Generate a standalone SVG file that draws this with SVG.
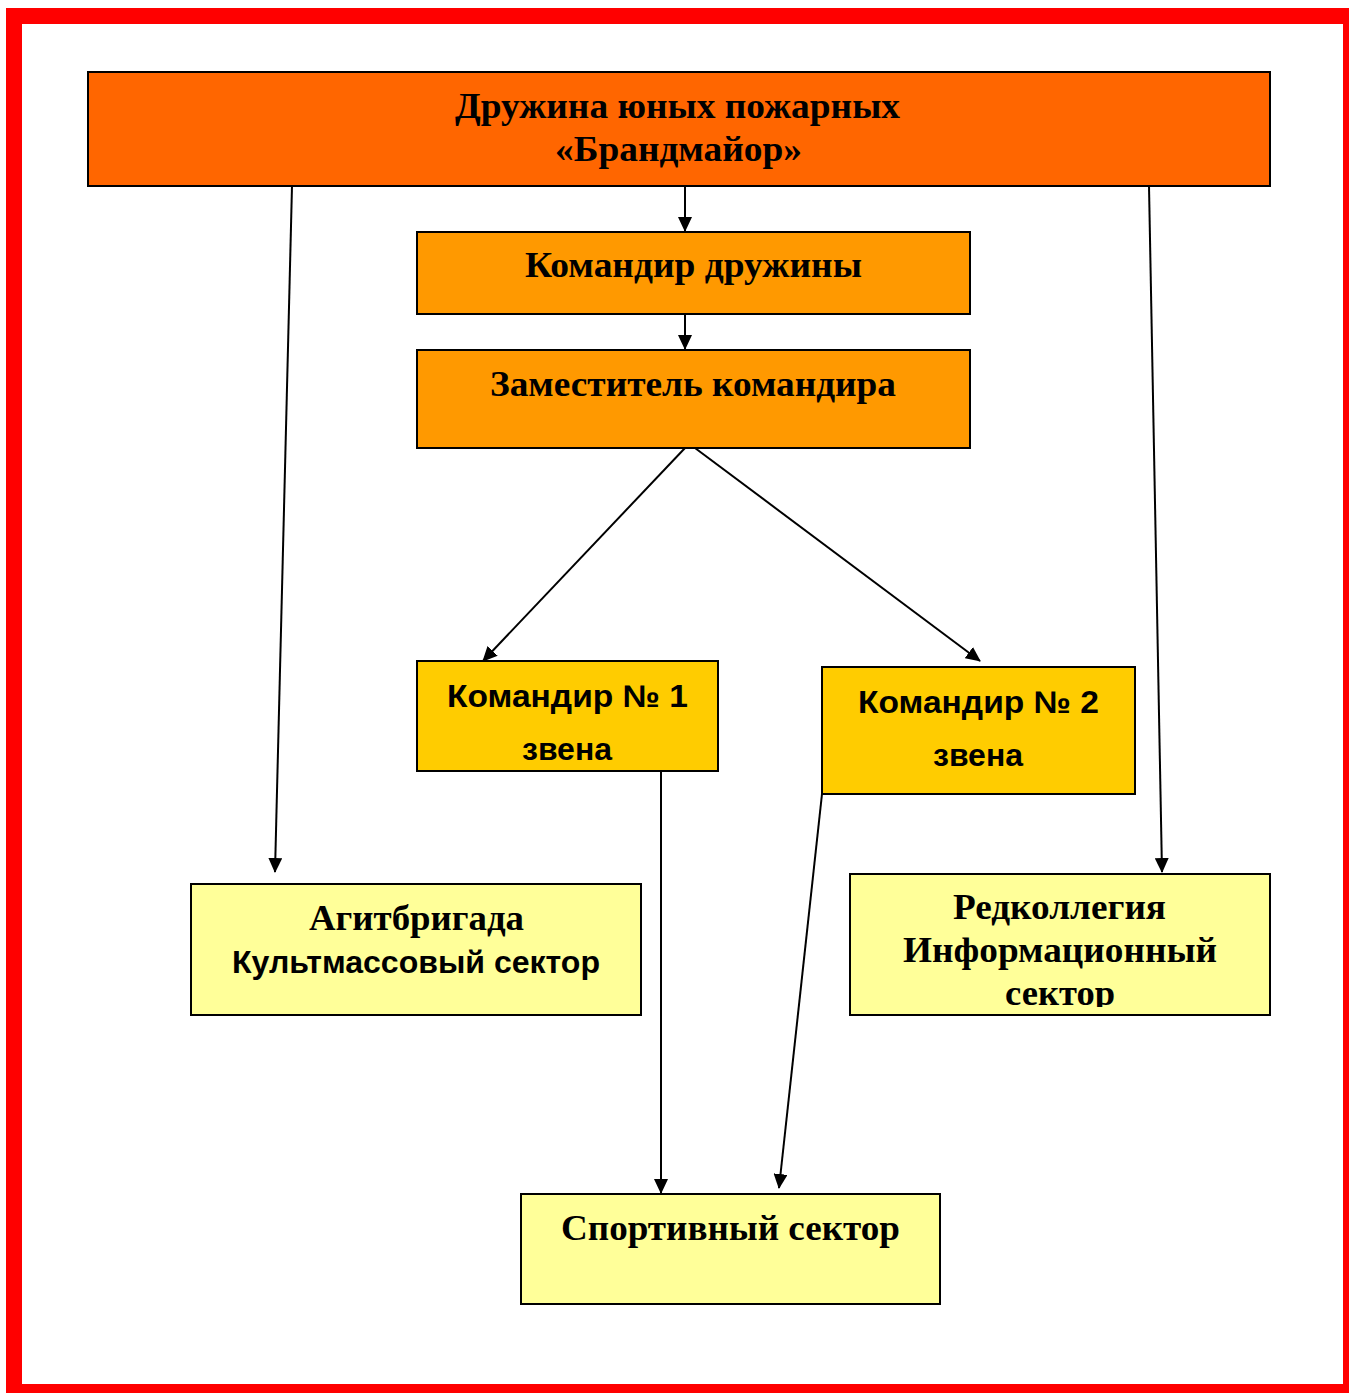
<svg xmlns="http://www.w3.org/2000/svg" width="1349" height="1393" viewBox="0 0 1349 1393">
<style>
.box{stroke:#000;stroke-width:2}
.serif{font-family:"Liberation Serif","Times New Roman",serif;font-weight:bold;font-size:36px;text-anchor:middle;fill:#000}
.sans{font-family:"Liberation Sans",Arial,sans-serif;font-weight:bold;font-size:31px;text-anchor:middle;fill:#000}
.conn{stroke:#000;stroke-width:2;fill:none;marker-end:url(#arr)}
</style>
<defs>
<marker id="arr" markerWidth="15" markerHeight="14" refX="14" refY="7" orient="auto" markerUnits="userSpaceOnUse">
<path d="M0,0 L15,7 L0,14 Z" fill="#000"/>
</marker>
<clipPath id="clipRed"><rect x="850" y="874" width="420" height="133"/></clipPath>
</defs>
<rect x="0" y="0" width="1349" height="1393" fill="#fff"/>
<path d="M6,8 H1349 V1393 H6 Z M22,24 V1384 H1343 V24 Z" fill="#ff0000" fill-rule="evenodd"/>
<g id="connectors">
<line class="conn" x1="685" y1="186" x2="685" y2="231"/>
<line class="conn" x1="685" y1="314" x2="685" y2="349"/>
<line class="conn" x1="685" y1="448" x2="483" y2="661"/>
<line class="conn" x1="695" y1="448" x2="980" y2="661"/>
<line class="conn" x1="292" y1="186" x2="275" y2="872"/>
<line class="conn" x1="1149" y1="186" x2="1162" y2="872"/>
<line class="conn" x1="661" y1="771" x2="661" y2="1193"/>
<line class="conn" x1="822" y1="794" x2="779" y2="1188"/>
</g>
<g id="n-top">
<rect class="box" x="88" y="72" width="1182" height="114" fill="#ff6600"/>
<text class="serif" x="677.5" y="118" textLength="445" lengthAdjust="spacingAndGlyphs">Дружина юных пожарных</text>
<text class="serif" x="678.5" y="161" textLength="247" lengthAdjust="spacingAndGlyphs">«Брандмайор»</text>
</g>
<g id="n-commander">
<rect class="box" x="417" y="232" width="553" height="82" fill="#ff9900"/>
<text class="serif" x="693.5" y="277" textLength="337" lengthAdjust="spacingAndGlyphs">Командир дружины</text>
</g>
<g id="n-deputy">
<rect class="box" x="417" y="350" width="553" height="98" fill="#ff9900"/>
<text class="serif" x="693" y="396" textLength="406" lengthAdjust="spacingAndGlyphs">Заместитель командира</text>
</g>
<g id="n-link1">
<rect class="box" x="417" y="661" width="301" height="110" fill="#ffcc00"/>
<text class="sans" x="567.5" y="707" textLength="241" lengthAdjust="spacingAndGlyphs">Командир № 1</text>
<text class="sans" x="567" y="760" textLength="90" lengthAdjust="spacingAndGlyphs">звена</text>
</g>
<g id="n-link2">
<rect class="box" x="822" y="667" width="313" height="127" fill="#ffcc00"/>
<text class="sans" x="978.5" y="713" textLength="241" lengthAdjust="spacingAndGlyphs">Командир № 2</text>
<text class="sans" x="978" y="766" textLength="90" lengthAdjust="spacingAndGlyphs">звена</text>
</g>
<g id="n-agit">
<rect class="box" x="191" y="884" width="450" height="131" fill="#ffff99"/>
<text class="serif" x="416.5" y="930" textLength="215" lengthAdjust="spacingAndGlyphs">Агитбригада</text>
<text class="sans" x="416" y="973" textLength="368" lengthAdjust="spacingAndGlyphs">Культмассовый сектор</text>
</g>
<g id="n-red">
<rect class="box" x="850" y="874" width="420" height="141" fill="#ffff99"/>
<g clip-path="url(#clipRed)">
<text class="serif" x="1059.5" y="919" textLength="213" lengthAdjust="spacingAndGlyphs">Редколлегия</text>
<text class="serif" x="1060" y="962" textLength="314" lengthAdjust="spacingAndGlyphs">Информационный</text>
<text class="serif" x="1060" y="1005" textLength="110" lengthAdjust="spacingAndGlyphs">сектор</text>
</g>
</g>
<g id="n-sport">
<rect class="box" x="521" y="1194" width="419" height="110" fill="#ffff99"/>
<text class="serif" x="730.5" y="1240" textLength="339" lengthAdjust="spacingAndGlyphs">Спортивный сектор</text>
</g>
</svg>
